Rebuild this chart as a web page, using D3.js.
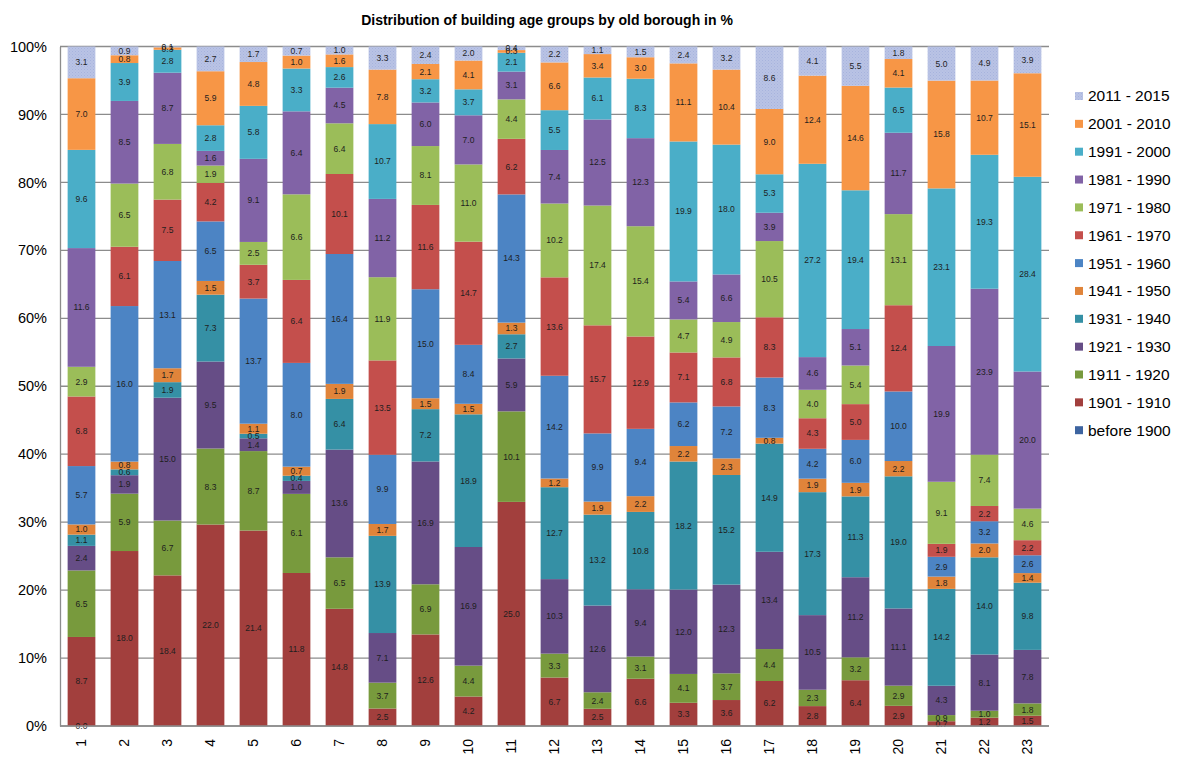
<!DOCTYPE html>
<html>
<head>
<meta charset="utf-8">
<script src="https://cdn.jsdelivr.net/npm/d3@7"></script>
<style>
  body { margin: 0; background: #fff; }
  text { font-family: "Liberation Sans", Arial, sans-serif; }
</style>
</head>
<body>
<div id="chart"></div>
<script>
// building age groups per old borough, values as printed in the labels
const boroughs = ['1','2','3','4','5','6','7','8','9','10','11','12','13','14','15','16','17','18','19','20','21','22','23']

const before1900 = [0.0, null, null, null, null, null, null, null, null, null, null, null, null, null, null, null, null, null, null, null, null, null, null]
const y1901 = [8.7, 18.0, 18.4, 22.0, 21.4, 11.8, 14.8, 2.5, 12.6, 4.2, 25.0, 6.7, 2.5, 6.6, 3.3, 3.6, 6.2, 2.8, 6.4, 2.9, 0.7, 1.2, 1.5]
const y1911 = [6.5, 5.9, 6.7, 8.3, 8.7, 6.1, 6.5, 3.7, 6.9, 4.4, 10.1, 3.3, 2.4, 3.1, 4.1, 3.7, 4.4, 2.3, 3.2, 2.9, 0.9, 1.0, 1.8]
const y1921 = [2.4, 1.9, 15.0, 9.5, 1.4, 1.0, 13.6, 7.1, 16.9, 16.9, 5.9, 10.3, 12.6, 9.4, 12.0, 12.3, 13.4, 10.5, 11.2, 11.1, 4.3, 8.1, 7.8]
const y1931 = [1.1, 0.6, 1.9, 7.3, 0.5, 0.4, 6.4, 13.9, 7.2, 18.9, 2.7, 12.7, 13.2, 10.8, 18.2, 15.2, 14.9, 17.3, 11.3, 19.0, 14.2, 14.0, 9.8]
const y1941 = [1.0, 0.8, 1.7, 1.5, 1.1, 0.7, 1.9, 1.7, 1.5, 1.5, 1.3, 1.2, 1.9, 2.2, 2.2, 2.3, 0.8, 1.9, 1.9, 2.2, 1.8, 2.0, 1.4]
const y1951 = [5.7, 16.0, 13.1, 6.5, 13.7, 8.0, 16.4, 9.9, 15.0, 8.4, 14.3, 14.2, 9.9, 9.4, 6.2, 7.2, 8.3, 4.2, 6.0, 10.0, 2.9, 3.2, 2.6]
const y1961 = [6.8, 6.1, 7.5, 4.2, 3.7, 6.4, 10.1, 13.5, 11.6, 14.7, 6.2, 13.6, 15.7, 12.9, 7.1, 6.8, 8.3, 4.3, 5.0, 12.4, 1.9, 2.2, 2.2]
const y1971 = [2.9, 6.5, 6.8, 1.9, 2.5, 6.6, 6.4, 11.9, 8.1, 11.0, 4.4, 10.2, 17.4, 15.4, 4.7, 4.9, 10.5, 4.0, 5.4, 13.1, 9.1, 7.4, 4.6]
const y1981 = [11.6, 8.5, 8.7, 1.6, 9.1, 6.4, 4.5, 11.2, 6.0, 7.0, 3.1, 7.4, 12.5, 12.3, 5.4, 6.6, 3.9, 4.6, 5.1, 11.7, 19.9, 23.9, 20.0]
const y1991 = [9.6, 3.9, 2.8, 2.8, 5.8, 3.3, 2.6, 10.7, 3.2, 3.7, 2.1, 5.5, 6.1, 8.3, 19.9, 18.0, 5.3, 27.2, 19.4, 6.5, 23.1, 19.3, 28.4]
const y2001 = [7.0, 0.8, 0.3, 5.9, 4.8, 1.0, 1.6, 7.8, 2.1, 4.1, 0.3, 6.6, 3.4, 3.0, 11.1, 10.4, 9.0, 12.4, 14.6, 4.1, 15.8, 10.7, 15.1]
const y2011 = [3.1, 0.9, 0.1, 2.7, 1.7, 0.7, 1.0, 3.3, 2.4, 2.0, 0.4, 2.2, 1.1, 1.5, 2.4, 3.2, 8.6, 4.1, 5.5, 1.8, 5.0, 4.9, 3.9]

const seriesNames = ['before 1900','1901 - 1910','1911 - 1920','1921 - 1930','1931 - 1940','1941 - 1950',
                     '1951 - 1960','1961 - 1970','1971 - 1980','1981 - 1990','1991 - 2000','2001 - 2010','2011 - 2015']
const seriesValues = [before1900, y1901, y1911, y1921, y1931, y1941, y1951, y1961, y1971, y1981, y1991, y2001, y2011]
const colors = ['#3d64a0','#a23f3d','#789a3d','#664d86','#3590a5','#e0843a',
                '#4c84c4','#c44f4c','#9bbd59','#8163a6','#4aaec8','#f79646','url(#dots)']
const yTicks = [0, 0.1, 0.2, 0.3, 0.4, 0.5, 0.6, 0.7, 0.8, 0.9, 1]

const width = 1188
const height = 764
const plot = {left: 60, right: 1049, top: 46.5, bottom: 726}

// one row per borough
const rows = boroughs.map((b, i) => {
    const r = {borough: b}
    seriesNames.forEach((s, j) => r[s] = seriesValues[j][i])
    return r
})

const stack = d3.stack()
    .keys(seriesNames)
    .value((d, key) => d[key] || 0)
    .offset(d3.stackOffsetExpand)
const stacked = stack(rows)

const svg = d3.select('#chart')
    .append('svg')
    .attr('width', width)
    .attr('height', height)

// dotted fill for the newest group
const pat = svg.append('defs').append('pattern')
    .attr('id', 'dots')
    .attr('width', 3).attr('height', 3)
    .attr('patternUnits', 'userSpaceOnUse')
pat.append('rect').attr('width', 3).attr('height', 3).attr('fill', '#b9c3e5')
pat.append('rect').attr('width', 1).attr('height', 1).attr('fill', '#a7b3dd')
pat.append('rect').attr('x', 1.5).attr('y', 1.5).attr('width', 1).attr('height', 1).attr('fill', '#afbae0')

const xScale = d3.scaleBand()
    .domain(boroughs)
    .range([plot.left, plot.right])
    .paddingInner(0.355)
    .paddingOuter(0.1775)

const yScale = d3.scaleLinear()
    .domain([0, 1])
    .range([plot.bottom, plot.top])

// gridlines
svg.append('g')
    .selectAll('line')
    .data(yTicks)
    .join('line')
    .attr('x1', plot.left)
    .attr('x2', plot.right)
    .attr('y1', d => yScale(d))
    .attr('y2', d => yScale(d))
    .attr('stroke', '#8c8c8c')
    .attr('stroke-width', 1.3)

let yAxis = d3.axisLeft(yScale)
    .tickValues(yTicks)
    .tickFormat(d3.format('.0%'))
    .tickSize(0)
    .tickPadding(13)

const yAxisGroup = svg.append('g')
    .attr('class', 'y-axis')
    .attr('transform', `translate(${plot.left},0)`)
    .call(yAxis)
yAxisGroup.select('.domain').attr('stroke', '#8c8c8c').attr('stroke-width', 1.3)
yAxisGroup.selectAll('text')
    .style('font-size', '14.5px')
    .style('font-family', '"Liberation Sans", Arial, sans-serif')
    .attr('fill', '#000')

// bars
const groups = svg.append('g')
    .selectAll('g')
    .data(stacked)
    .join('g')
    .attr('fill', (d, i) => colors[i])

groups.selectAll('rect')
    .data(d => d)
    .join('rect')
    .attr('x', d => xScale(d.data.borough))
    .attr('width', xScale.bandwidth())
    .attr('y', d => yScale(d[1]))
    .attr('height', d => yScale(d[0]) - yScale(d[1]))

// value labels in the middle of each piece
const labels = svg.append('g')
stacked.forEach(series => {
    series.forEach(d => {
        const v = d.data[series.key]
        if (v == null) return
        labels.append('text')
            .attr('x', xScale(d.data.borough) + xScale.bandwidth() / 2)
            .attr('y', yScale((d[0] + d[1]) / 2))
            .attr('dy', '0.35em')
            .attr('text-anchor', 'middle')
            .style('font-size', '8.5px')
            .attr('fill', '#1e1e1e')
            .text(d3.format('.1f')(v))
    })
})

// x axis line + rotated borough numbers
svg.append('line')
    .attr('x1', plot.left).attr('x2', plot.right)
    .attr('y1', plot.bottom).attr('y2', plot.bottom)
    .attr('stroke', '#8c8c8c')
    .attr('stroke-width', 1.3)

svg.append('g')
    .selectAll('text')
    .data(boroughs)
    .join('text')
    .attr('transform', d => `translate(${xScale(d) + xScale.bandwidth() / 2}, 739) rotate(-90)`)
    .attr('dy', '0.35em')
    .attr('text-anchor', 'end')
    .style('font-size', '14px')
    .text(d => d)

// title
svg.append('text')
    .attr('x', 547)
    .attr('y', 25)
    .attr('text-anchor', 'middle')
    .style('font-size', '14px')
    .style('font-weight', 'bold')
    .text('Distribution of building age groups by old borough in %')

// legend, newest on top
const legend = svg.append('g')
    .attr('transform', 'translate(1075, 96)')
const legendItems = legend.selectAll('g')
    .data(seriesNames.slice().reverse())
    .join('g')
    .attr('transform', (d, i) => `translate(0, ${i * 27.85})`)
legendItems.append('rect')
    .attr('x', 0).attr('y', -4)
    .attr('width', 8).attr('height', 8)
    .attr('fill', d => colors[seriesNames.indexOf(d)])
legendItems.append('text')
    .attr('x', 13)
    .attr('dy', '0.35em')
    .style('font-size', '15.5px')
    .text(d => d)
</script>
</body>
</html>
